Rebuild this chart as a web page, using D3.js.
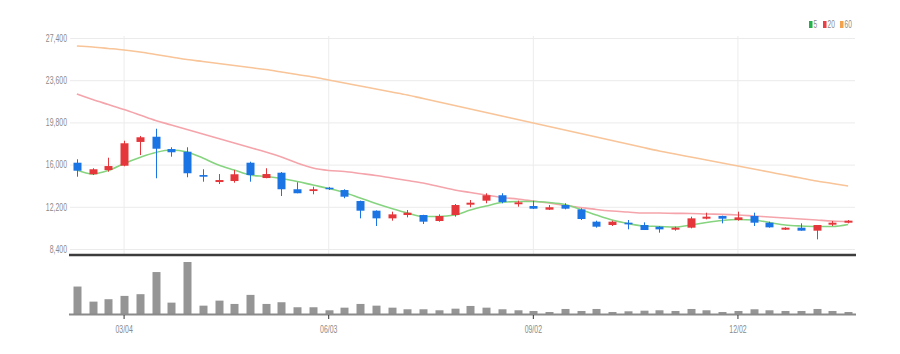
<!DOCTYPE html>
<html>
<head>
<meta charset="utf-8">
<script src="https://cdn.jsdelivr.net/npm/d3@7"></script>
<style>
  html, body { margin: 0; padding: 0; background: #fff; }
  svg { display: block; }
  text { font-family: "Liberation Sans", Arial, sans-serif; }
</style>
</head>
<body>
<script>
// ---------------- DATA ----------------
const dates = ["02/12","02/19","02/26","03/04","03/11","03/18","03/25","04/01","04/08","04/15",
  "04/22","04/29","05/06","05/13","05/20","05/27","06/03","06/10","06/17","06/24",
  "07/01","07/08","07/15","07/22","07/29","08/05","08/12","08/19","08/26","09/02",
  "09/09","09/16","09/23","09/30","10/07","10/14","10/21","10/28","11/04","11/11",
  "11/18","11/25","12/02","12/09","12/16","12/23","12/30","01/06","01/13","01/20"];

const openV  = [16170,15130,15510,15900,18040,18510,17400,17160,15060,14430,
  14520,16170,14790,15270,13780,13620,13920,13710,12720,11850,
  11160,11460,11460,10920,11460,12390,12750,13240,12430,12270,
  11940,12360,11970,10860,10560,10770,10560,10410,10140,10320,
  11130,11370,11010,11370,10770,10140,10320,10050,10590,10770];
const highV  = [16480,15670,16620,18150,18580,19230,17560,17560,15580,15150,
  15510,16260,15670,15330,14410,14010,13990,13780,12760,11880,
  11760,11910,11480,11520,12450,12810,13420,13420,12750,12750,
  12360,12520,12070,10950,10950,11010,10800,10450,10410,11310,
  11670,11400,11760,11670,10860,10360,10710,10560,10920,11010];
const lowV   = [14910,15060,15360,15850,16860,14770,16710,14860,14460,14250,
  14370,14460,14770,13170,13420,13330,13720,12970,11160,10470,
  10950,11250,10650,10860,11310,12160,12520,12520,12210,12000,
  11910,11970,11010,10320,10470,10170,10110,9870,10050,10260,
  11070,10710,10950,10470,10320,10110,10050,9270,10470,10710];
const closeV = [15450,15580,15870,17920,18460,17430,17110,15220,14910,14610,
  15130,15060,15150,13780,13420,13780,13780,13110,11850,11160,
  11520,11670,10860,11370,12360,12570,13240,12630,12600,12030,
  12160,12030,11100,10410,10860,10620,10110,10170,10320,11160,
  11310,11130,11250,10770,10350,10320,10050,10560,10770,10950];

const ma5  = [15510,15150,15470,16100,16640,17090,17310,17130,16590,15960,
  15510,15060,14930,14750,14480,14160,13850,13490,12990,12500,
  12050,11640,11330,11330,11460,11910,12270,12590,12680,12680,
  12590,12410,11960,11460,11010,10700,10470,10430,10380,10560,
  10790,10970,11060,11010,10790,10560,10470,10430,10430,10610];
const ma20 = [22360,21860,21410,20960,20470,19970,19570,19160,18760,18350,
  17950,17540,17140,16690,16140,15690,15470,15380,15200,15020,
  14790,14570,14340,14030,13710,13490,13260,13040,12900,12720,
  12540,12320,12140,11960,11820,11730,11640,11640,11610,11600,
  11550,11520,11460,11370,11280,11190,11100,11010,10920,10860];
const ma60 = [26680,26590,26460,26320,26140,25910,25690,25460,25280,25100,
  24920,24740,24560,24340,24110,23890,23620,23350,23080,22810,
  22540,22270,21950,21640,21320,21010,20690,20380,20060,19750,
  19430,19120,18800,18490,18170,17860,17540,17230,16950,16680,
  16410,16140,15870,15600,15330,15060,14790,14520,14300,14070];

const volume = [546,246,294,360,394,834,226,1034,166,266,
  200,380,200,234,134,134,74,126,200,166,
  126,94,94,74,106,160,126,94,74,60,
  40,100,60,100,40,54,66,74,60,100,
  74,40,60,94,74,60,60,100,60,40];

const yTicks = [8400,12200,16000,19800,23600,27400];
const xTickLabels = ["03/04","06/03","09/02","12/02"];
const legendLabels = ["5","20","60"];

// ---------------- CHART ----------------
const W = 900, H = 354;
const left = 70, right = 855;
const SX = 0.66; // horizontal condensing of label text

const C_UP = "#e5373b", C_DOWN = "#1b74e4";
const C_MA = ["#86d47f", "#f4a4aa", "#f8c498"];
const C_LEG = ["#21b24a", "#ec3f45", "#f2a14c"];

const svg = d3.select("body").append("svg").attr("width", W).attr("height", H);

const x = d3.scaleBand().domain(dates).range([69, 856]).padding(0);
const cx = d => x(d) + x.bandwidth() / 2;
const y = d3.scaleLinear().domain([8400, 27400]).range([249, 38]);
const yv = d3.scaleLinear().domain([0, d3.max(volume)]).range([314, 262]);

// horizontal grid + y labels
const gy = svg.append("g").attr("transform", `translate(${left},0)`)
  .call(d3.axisLeft(y).tickValues(yTicks).tickFormat(d3.format(",")).tickSize(-(right - left)).tickPadding(3));
gy.select(".domain").remove();
gy.selectAll(".tick line").attr("stroke", "#ebebeb").attr("stroke-width", 1);
gy.selectAll(".tick text")
  .attr("fill", "#8a8a8a").style("font-size", "10.5px")
  .attr("x", -3 / SX).attr("transform", `scale(${SX},1)`);

// vertical grid
svg.append("g").selectAll("line").data(xTickLabels).join("line")
  .attr("x1", d => cx(d)).attr("x2", d => cx(d))
  .attr("y1", 36).attr("y2", 254)
  .attr("stroke", "#ececec").attr("stroke-width", 1);

// moving averages
const line = arr => d3.line().x((d, i) => cx(dates[i])).y(d => y(d)).curve(d3.curveMonotoneX)(arr);
[ma60, ma20, ma5].forEach((arr, k) => {
  svg.append("path").attr("d", line(arr)).attr("fill", "none")
    .attr("stroke", [C_MA[2], C_MA[1], C_MA[0]][k]).attr("stroke-width", 1.6);
});

// candles
const cw = 8;
const candles = svg.append("g").selectAll("g").data(dates).join("g");
candles.append("line")
  .attr("x1", (d) => Math.round(cx(d)) + 0.5).attr("x2", (d) => Math.round(cx(d)) + 0.5)
  .attr("y1", (d, i) => y(highV[i])).attr("y2", (d, i) => y(lowV[i]))
  .attr("stroke", (d, i) => closeV[i] >= openV[i] ? C_UP : C_DOWN).attr("stroke-width", 1);
candles.append("rect")
  .attr("x", d => Math.round(cx(d)) + 0.5 - cw / 2)
  .attr("width", cw)
  .attr("y", (d, i) => y(Math.max(openV[i], closeV[i])))
  .attr("height", (d, i) => Math.max(1.5, Math.abs(y(openV[i]) - y(closeV[i]))))
  .attr("fill", (d, i) => closeV[i] >= openV[i] ? C_UP : C_DOWN);

// separator
svg.append("line").attr("x1", 69).attr("x2", 856).attr("y1", 255).attr("y2", 255)
  .attr("stroke", "#3c3c3c").attr("stroke-width", 2.5);

// volume
svg.append("g").selectAll("rect").data(volume).join("rect")
  .attr("x", (d, i) => Math.round(cx(dates[i])) + 0.5 - cw / 2)
  .attr("width", cw)
  .attr("y", d => yv(d))
  .attr("height", d => 314 - yv(d))
  .attr("fill", "#959595");
svg.append("line").attr("x1", 69).attr("x2", 856).attr("y1", 314.5).attr("y2", 314.5)
  .attr("stroke", "#8a8a8a").attr("stroke-width", 2);

// x axis
const gx = svg.append("g").attr("transform", "translate(0,315)")
  .call(d3.axisBottom(x).tickValues(xTickLabels).tickSize(4).tickPadding(7));
gx.select(".domain").remove();
gx.selectAll(".tick line").attr("stroke", "#333");
gx.selectAll(".tick text")
  .attr("fill", "#8a8a8a").style("font-size", "10.5px")
  .attr("transform", `scale(${SX},1)`);

// legend
const legX = [809, 823, 840];
const leg = svg.append("g");
legendLabels.forEach((lab, k) => {
  leg.append("rect").attr("x", legX[k]).attr("y", 21).attr("width", 3.5).attr("height", 7)
    .attr("fill", C_LEG[k]);
  leg.append("text").attr("x", (legX[k] + 4.5) / SX).attr("y", 28)
    .attr("transform", `scale(${SX},1)`)
    .attr("fill", "#8a8a8a").style("font-size", "10px").text(lab);
});
</script>
</body>
</html>
